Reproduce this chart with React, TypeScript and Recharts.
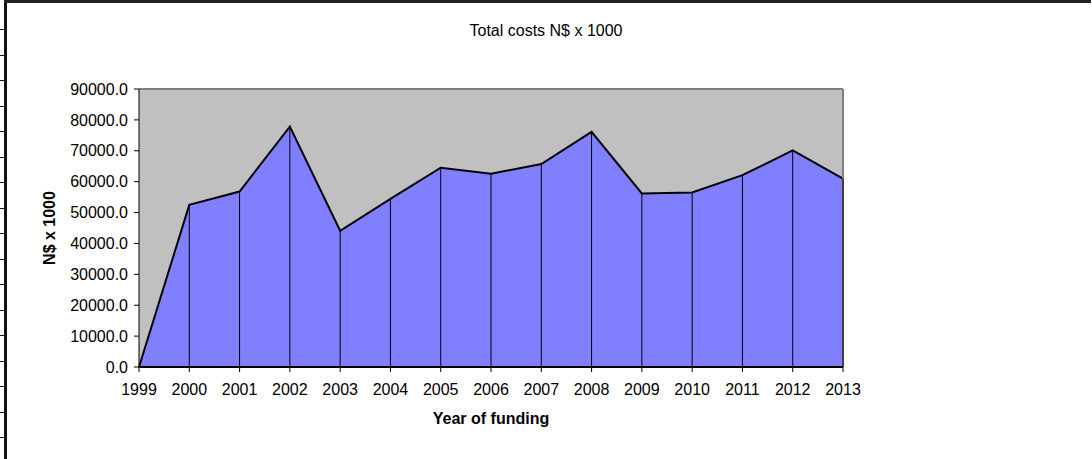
import React from "react";
import {
  AreaChart,
  Area,
  XAxis,
  YAxis,
  CartesianGrid,
  ReferenceLine,
} from "recharts";

const YEARS = [
  "1999", "2000", "2001", "2002", "2003", "2004", "2005", "2006",
  "2007", "2008", "2009", "2010", "2011", "2012", "2013",
];

const TOTAL_COSTS = [
  0, 52500, 56800, 77800, 44100, 54400, 64500, 62600,
  65700, 76100, 56200, 56500, 62100, 70100, 61000,
];

const Y_TICKS = [0, 10000, 20000, 30000, 40000, 50000, 60000, 70000, 80000, 90000];

const TITLE = "Total costs N$ x 1000";
const X_LABEL = "Year of funding";
const Y_LABEL = "N$ x 1000";

const FONT = "Arial, 'Liberation Sans', sans-serif";

const data = YEARS.map((year, i) => ({ year, cost: TOTAL_COSTS[i] }));

// little spreadsheet row marks along the left edge
const ROW_MARKS = Array.from({ length: 18 }, (_, i) => 29 + i * 25.5);

const renderYLabel = ({ viewBox }: any) => {
  const x = viewBox.x - 10;
  const y = viewBox.y + viewBox.height / 2;
  return (
    <text
      x={x}
      y={y}
      transform={`rotate(-90, ${x}, ${y})`}
      textAnchor="middle"
      dominantBaseline="central"
      fontFamily={FONT}
      fontSize={16}
      fontWeight="bold"
      fill="#000"
    >
      {Y_LABEL}
    </text>
  );
};

const renderXLabel = ({ viewBox }: any) => (
  <text
    x={viewBox.x + viewBox.width / 2}
    y={424}
    textAnchor="middle"
    fontFamily={FONT}
    fontSize={16}
    fontWeight="bold"
    fill="#000"
  >
    {X_LABEL}
  </text>
);

export default function App() {
  return (
    <div style={{ position: "relative", width: 1092, height: 459, background: "#fff", fontFamily: FONT }}>
      <style>{"body{margin:0;}"}</style>

      {/* frame of the embedded chart */}
      <div style={{ position: "absolute", left: 4, top: 0, width: 3, height: 459, background: "#111" }} />
      <div style={{ position: "absolute", left: 4, top: 0, width: 1087, height: 3, background: "#222" }} />
      {ROW_MARKS.map((y) => (
        <div key={y} style={{ position: "absolute", left: 0, top: Math.round(y), width: 5, height: 1, background: "#111" }} />
      ))}

      <div
        style={{
          position: "absolute",
          left: 0,
          top: 22,
          width: 1092,
          textAlign: "center",
          fontSize: 16,
          color: "#000",
        }}
      >
        {TITLE}
      </div>

      <AreaChart
        width={1092}
        height={459}
        data={data}
        margin={{ top: 89, right: 249, bottom: 62, left: 59 }}
        style={{ position: "absolute", left: 0, top: 0 }}
      >
        <CartesianGrid fill="#C0C0C0" horizontal={false} vertical={false} />
        <ReferenceLine y={90000} stroke="#808080" strokeWidth={2} />
        <ReferenceLine x="2013" stroke="#808080" strokeWidth={2} />
        <XAxis
          dataKey="year"
          height={30}
          stroke="#000"
          tickLine={{ stroke: "#000" }}
          tickSize={5}
          tickMargin={12}
          interval={0}
          tick={{ fill: "#000", fontSize: 16, fontFamily: FONT }}
          label={{ content: renderXLabel }}
        />
        <YAxis
          domain={[0, 90000]}
          ticks={Y_TICKS}
          width={80}
          stroke="#000"
          tickSize={5}
          tickMargin={6}
          interval={0}
          tickFormatter={(v: number) => v.toFixed(1)}
          tick={{ fill: "#000", fontSize: 16, fontFamily: FONT }}
          label={{ content: renderYLabel }}
        />
        <Area
          type="linear"
          dataKey="cost"
          fill="#8080FF"
          fillOpacity={1}
          stroke="#000"
          strokeWidth={2}
          dot={false}
          activeDot={false}
          isAnimationActive={false}
        />
        {data.map((d) => (
          <ReferenceLine
            key={d.year}
            segment={[
              { x: d.year, y: 0 },
              { x: d.year, y: d.cost },
            ]}
            stroke="#000"
            strokeWidth={1}
          />
        ))}
        <ReferenceLine y={0} stroke="#000" strokeWidth={2} />
      </AreaChart>
    </div>
  );
}
